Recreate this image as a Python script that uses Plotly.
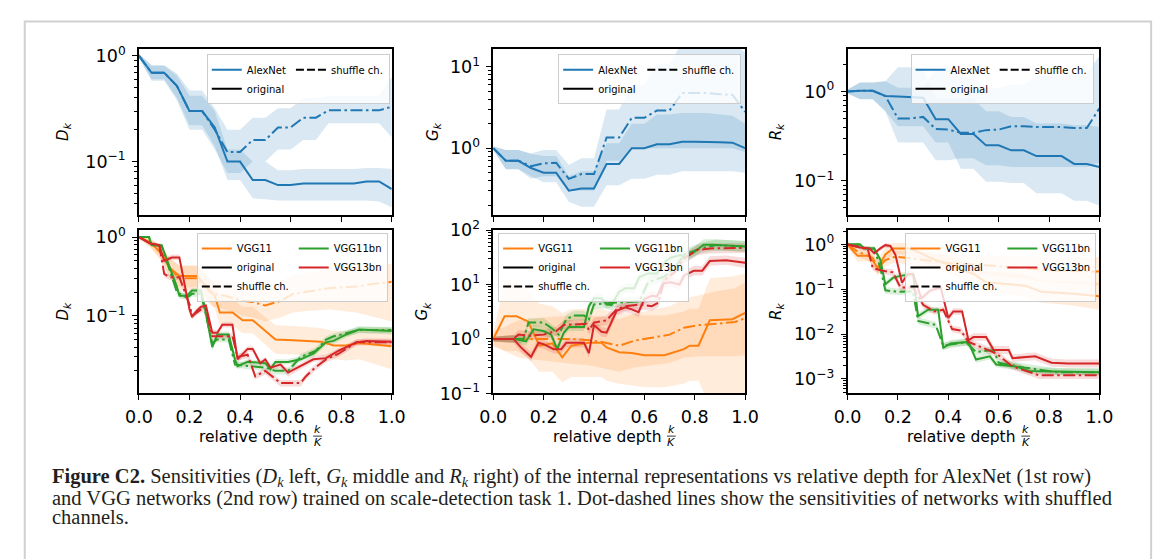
import math
import plotly.graph_objects as go

# ---------------------------------------------------------------- data
# AlexNet: relative depth k/K (K = 20)
ALEX_X = [0.0, 0.05, 0.10, 0.15, 0.20, 0.25, 0.30, 0.35, 0.40, 0.45, 0.50,
          0.55, 0.60, 0.65, 0.70, 0.75, 0.80, 0.85, 0.90, 0.95, 1.0]

D_ALEX_ORIG = [1.0, 0.69, 0.69, 0.52, 0.30, 0.30, 0.21, 0.10, 0.10, 0.067, 0.067,
               0.060, 0.060, 0.062, 0.062, 0.062, 0.062, 0.062, 0.065, 0.065, 0.055]
D_ALEX_ORIG_LO = [0.96, 0.60, 0.60, 0.40, 0.22, 0.22, 0.14, 0.067, 0.067, 0.045, 0.044,
                  0.043, 0.043, 0.043, 0.043, 0.043, 0.043, 0.043, 0.043, 0.042, 0.037]
D_ALEX_ORIG_HI = [1.04, 0.80, 0.80, 0.65, 0.42, 0.42, 0.30, 0.13, 0.13, 0.10, 0.10,
                  0.083, 0.083, 0.085, 0.085, 0.085, 0.085, 0.085, 0.087, 0.087, 0.085]
D_ALEX_SHUF = [1.0, 0.69, 0.69, 0.52, 0.30, 0.30, 0.20, 0.123, 0.123, 0.16, 0.16,
               0.21, 0.21, 0.26, 0.26, 0.305, 0.305, 0.305, 0.305, 0.305, 0.33]
D_ALEX_SHUF_LO = [0.95, 0.58, 0.58, 0.38, 0.20, 0.20, 0.13, 0.078, 0.078, 0.10, 0.10,
                  0.13, 0.13, 0.16, 0.16, 0.23, 0.23, 0.23, 0.23, 0.23, 0.17]
D_ALEX_SHUF_HI = [1.05, 0.82, 0.82, 0.68, 0.47, 0.47, 0.32, 0.20, 0.20, 0.26, 0.26,
                  0.32, 0.32, 0.40, 0.40, 0.42, 0.42, 0.42, 0.42, 0.42, 0.63]

G_ALEX_ORIG = [1.0, 0.70, 0.70, 0.57, 0.50, 0.50, 0.30, 0.32, 0.32, 0.64, 0.64,
               1.0, 1.0, 1.12, 1.12, 1.2, 1.2, 1.2, 1.18, 1.17, 1.0]
G_ALEX_ORIG_LO = [0.95, 0.55, 0.55, 0.45, 0.38, 0.38, 0.22, 0.19, 0.19, 0.35, 0.35,
                  0.42, 0.42, 0.47, 0.47, 0.52, 0.52, 0.52, 0.52, 0.52, 0.50]
G_ALEX_ORIG_HI = [1.05, 0.95, 0.95, 0.85, 0.80, 0.80, 0.45, 0.52, 0.52, 1.15, 1.15,
                  2.0, 2.0, 2.6, 2.6, 2.7, 2.7, 2.7, 2.6, 2.5, 2.0]
G_ALEX_SHUF = [1.0, 0.70, 0.70, 0.60, 0.65, 0.66, 0.42, 0.48, 0.48, 1.35, 1.35,
               2.36, 2.36, 2.9, 2.9, 4.76, 4.76, 4.76, 4.6, 4.55, 2.8]
G_ALEX_SHUF_LO = [0.95, 0.55, 0.55, 0.42, 0.45, 0.45, 0.30, 0.30, 0.30, 0.70, 0.70,
                  1.0, 1.0, 1.0, 1.0, 1.0, 1.0, 1.0, 1.0, 1.0, 0.9]
G_ALEX_SHUF_HI = [1.05, 0.95, 0.95, 0.86, 0.95, 0.95, 0.62, 0.75, 0.75, 3.0, 3.0,
                  6.0, 6.0, 11.0, 11.0, 20.0, 20.0, 20.0, 20.0, 20.0, 15.0]

R_ALEX_ORIG = [1.0, 1.02, 1.02, 0.89, 0.88, 0.87, 0.85, 0.49, 0.49, 0.335, 0.335,
               0.25, 0.25, 0.22, 0.22, 0.19, 0.19, 0.19, 0.155, 0.155, 0.143]
R_ALEX_ORIG_LO = [0.95, 0.82, 0.82, 0.60, 0.41, 0.41, 0.41, 0.27, 0.27, 0.137, 0.137,
                  0.098, 0.098, 0.095, 0.095, 0.073, 0.073, 0.073, 0.060, 0.060, 0.053]
R_ALEX_ORIG_HI = [1.05, 1.26, 1.26, 1.30, 1.87, 1.87, 1.80, 0.83, 0.83, 0.83, 0.83,
                  0.60, 0.60, 0.52, 0.52, 0.44, 0.44, 0.44, 0.42, 0.42, 0.40]
R_ALEX_SHUF = [1.0, 1.02, 1.02, 0.89, 0.50, 0.50, 0.52, 0.38, 0.375, 0.345, 0.345,
               0.37, 0.375, 0.41, 0.41, 0.40, 0.40, 0.40, 0.39, 0.39, 0.65]
R_ALEX_SHUF_LO = [0.95, 0.82, 0.82, 0.60, 0.27, 0.27, 0.27, 0.17, 0.17, 0.18, 0.18,
                  0.15, 0.15, 0.143, 0.143, 0.143, 0.143, 0.143, 0.143, 0.143, 0.16]
R_ALEX_SHUF_HI = [1.05, 1.26, 1.26, 1.30, 1.10, 1.10, 1.10, 1.77, 1.77, 1.43, 1.43,
                  1.10, 1.10, 1.20, 1.20, 1.50, 1.50, 1.50, 1.60, 1.60, 2.50]

# VGG networks: rows are (relative depth, value, band low, band high)
D_VGG11_ORIG = [
    (0.00, 1.00, 0.95, 1.05), (0.045, 0.85, 0.74, 0.96), (0.09, 0.62, 0.50, 0.76),
    (0.12, 0.41, 0.31, 0.55), (0.16, 0.32, 0.23, 0.44), (0.23, 0.32, 0.23, 0.44),
    (0.30, 0.18, 0.125, 0.26), (0.32, 0.11, 0.075, 0.165), (0.37, 0.11, 0.075, 0.165),
    (0.41, 0.088, 0.06, 0.13), (0.45, 0.088, 0.06, 0.13), (0.50, 0.064, 0.043, 0.097),
    (0.54, 0.050, 0.033, 0.076), (0.61, 0.049, 0.032, 0.074), (0.72, 0.047, 0.031, 0.070),
    (0.77, 0.042, 0.028, 0.064), (0.82, 0.042, 0.027, 0.064), (0.87, 0.045, 0.028, 0.068),
    (1.00, 0.041, 0.021, 0.070)]
D_VGG11_SHUF = [
    (0.00, 1.00, 0.95, 1.05), (0.045, 0.85, 0.74, 0.96), (0.09, 0.62, 0.50, 0.76),
    (0.12, 0.41, 0.31, 0.55), (0.16, 0.30, 0.21, 0.43), (0.23, 0.30, 0.21, 0.43),
    (0.29, 0.19, 0.13, 0.28), (0.34, 0.18, 0.12, 0.27), (0.41, 0.155, 0.10, 0.25),
    (0.45, 0.15, 0.095, 0.24), (0.50, 0.135, 0.085, 0.23), (0.56, 0.155, 0.095, 0.27),
    (0.61, 0.19, 0.11, 0.33), (0.66, 0.20, 0.115, 0.35), (0.755, 0.225, 0.12, 0.39),
    (0.86, 0.235, 0.11, 0.41), (0.91, 0.25, 0.10, 0.43), (1.00, 0.27, 0.085, 0.46)]
D_VGG11BN_ORIG = [
    (0.00, 1.00, 0.97, 1.03), (0.04, 1.00, 0.97, 1.03), (0.05, 0.79, 0.75, 0.83),
    (0.09, 0.78, 0.74, 0.82), (0.15, 0.235, 0.215, 0.255), (0.16, 0.18, 0.165, 0.195),
    (0.19, 0.18, 0.165, 0.195), (0.21, 0.21, 0.195, 0.225), (0.245, 0.21, 0.195, 0.225),
    (0.26, 0.13, 0.12, 0.14), (0.29, 0.040, 0.036, 0.044), (0.31, 0.058, 0.053, 0.063),
    (0.355, 0.058, 0.053, 0.063), (0.38, 0.028, 0.025, 0.031), (0.39, 0.023, 0.021, 0.025),
    (0.43, 0.026, 0.024, 0.028), (0.50, 0.025, 0.023, 0.027), (0.52, 0.021, 0.019, 0.023),
    (0.54, 0.026, 0.024, 0.028), (0.59, 0.026, 0.024, 0.028), (0.64, 0.028, 0.026, 0.031),
    (0.69, 0.033, 0.030, 0.036), (0.74, 0.046, 0.042, 0.050), (0.77, 0.048, 0.044, 0.053),
    (0.82, 0.058, 0.053, 0.064), (0.87, 0.067, 0.061, 0.074), (1.00, 0.064, 0.058, 0.071)]
D_VGG11BN_SHUF = [
    (0.00, 1.00, 0.97, 1.03), (0.04, 1.00, 0.97, 1.03), (0.05, 0.79, 0.75, 0.83),
    (0.09, 0.78, 0.74, 0.82), (0.15, 0.20, 0.185, 0.22), (0.19, 0.17, 0.155, 0.185),
    (0.21, 0.19, 0.175, 0.205), (0.245, 0.19, 0.175, 0.205), (0.26, 0.12, 0.11, 0.13),
    (0.29, 0.045, 0.041, 0.049), (0.31, 0.050, 0.046, 0.055), (0.355, 0.050, 0.046, 0.055),
    (0.38, 0.024, 0.022, 0.027), (0.43, 0.023, 0.021, 0.025), (0.50, 0.022, 0.020, 0.024),
    (0.54, 0.020, 0.018, 0.022), (0.59, 0.020, 0.018, 0.022), (0.64, 0.030, 0.027, 0.033),
    (0.70, 0.036, 0.033, 0.040), (0.74, 0.050, 0.046, 0.055), (0.77, 0.055, 0.050, 0.060),
    (0.82, 0.060, 0.055, 0.066), (0.87, 0.066, 0.060, 0.072), (1.00, 0.066, 0.060, 0.072)]
D_VGG13BN_ORIG = [
    (0.00, 1.00, 0.97, 1.03), (0.045, 0.83, 0.79, 0.87), (0.08, 0.79, 0.75, 0.83),
    (0.10, 0.50, 0.46, 0.54), (0.13, 0.55, 0.51, 0.60), (0.16, 0.55, 0.51, 0.60),
    (0.20, 0.12, 0.11, 0.13), (0.21, 0.097, 0.089, 0.105), (0.23, 0.117, 0.107, 0.127),
    (0.245, 0.13, 0.12, 0.14), (0.265, 0.135, 0.125, 0.145), (0.29, 0.061, 0.056, 0.066),
    (0.31, 0.061, 0.056, 0.066), (0.33, 0.077, 0.071, 0.083), (0.37, 0.077, 0.071, 0.083),
    (0.39, 0.028, 0.025, 0.031), (0.43, 0.038, 0.035, 0.041), (0.45, 0.038, 0.035, 0.041),
    (0.48, 0.025, 0.023, 0.027), (0.50, 0.028, 0.026, 0.030), (0.52, 0.022, 0.020, 0.024),
    (0.56, 0.024, 0.022, 0.026), (0.59, 0.019, 0.017, 0.021), (0.64, 0.023, 0.021, 0.025),
    (0.69, 0.028, 0.026, 0.031), (0.74, 0.029, 0.027, 0.032), (0.79, 0.036, 0.033, 0.039),
    (0.86, 0.046, 0.042, 0.050), (0.90, 0.048, 0.044, 0.052), (1.00, 0.047, 0.043, 0.051)]
D_VGG13BN_SHUF = [
    (0.00, 1.00, 0.97, 1.03), (0.045, 0.83, 0.79, 0.87), (0.08, 0.79, 0.75, 0.83),
    (0.10, 0.34, 0.31, 0.37), (0.12, 0.31, 0.285, 0.335), (0.16, 0.31, 0.285, 0.335),
    (0.20, 0.14, 0.13, 0.15), (0.21, 0.10, 0.092, 0.108), (0.245, 0.12, 0.11, 0.13),
    (0.265, 0.12, 0.11, 0.13), (0.29, 0.055, 0.050, 0.060), (0.37, 0.055, 0.050, 0.060),
    (0.39, 0.030, 0.027, 0.033), (0.43, 0.032, 0.029, 0.035), (0.46, 0.017, 0.0155, 0.0185),
    (0.50, 0.020, 0.018, 0.022), (0.56, 0.014, 0.0127, 0.0153), (0.64, 0.014, 0.0127, 0.0153),
    (0.66, 0.017, 0.0155, 0.0185), (0.69, 0.021, 0.019, 0.023), (0.74, 0.028, 0.0255, 0.0305),
    (0.79, 0.033, 0.030, 0.036), (0.86, 0.046, 0.042, 0.050), (1.00, 0.046, 0.042, 0.050)]

G_VGG11_ORIG = [
    (0.00, 1.00, 0.75, 1.35), (0.045, 2.6, 0.6, 11), (0.093, 2.6, 0.6, 11),
    (0.138, 2.1, 0.45, 8), (0.183, 0.75, 0.25, 4.5), (0.235, 0.83, 0.25, 4.0),
    (0.274, 0.46, 0.16, 3.0), (0.31, 0.75, 0.2, 3.5), (0.38, 0.85, 0.2, 3.6),
    (0.43, 0.85, 0.2, 3.6), (0.45, 0.70, 0.17, 3.3), (0.50, 0.57, 0.15, 3.0),
    (0.55, 0.55, 0.14, 2.9), (0.60, 0.50, 0.13, 2.7), (0.68, 0.50, 0.13, 2.7),
    (0.757, 0.65, 0.15, 3.2), (0.78, 0.75, 0.17, 3.6), (0.815, 0.75, 0.17, 3.6),
    (0.86, 2.2, 0.06, 13), (0.95, 2.3, 0.055, 14), (1.00, 3.0, 0.05, 16)]
G_VGG11_SHUF = [
    (0.00, 1.00, 0.75, 1.35), (0.10, 1.00, 0.45, 2.2), (0.20, 1.00, 0.4, 2.5),
    (0.31, 1.00, 0.35, 2.7), (0.38, 0.95, 0.33, 2.7), (0.42, 0.90, 0.3, 2.6),
    (0.50, 0.75, 0.25, 2.3), (0.56, 0.93, 0.3, 2.9), (0.63, 1.05, 0.33, 3.4),
    (0.70, 1.20, 0.36, 4.0), (0.757, 1.6, 0.45, 5.5), (0.82, 1.8, 0.48, 6.5),
    (0.886, 1.9, 0.48, 7.5), (0.96, 2.05, 0.48, 8.5), (1.00, 2.4, 0.5, 11)]
G_VGG11BN_ORIG = [
    (0.00, 1.00, 0.9, 1.1), (0.086, 1.00, 0.85, 1.18), (0.11, 0.95, 0.8, 1.12),
    (0.13, 0.90, 0.75, 1.08), (0.16, 1.5, 1.25, 1.8), (0.20, 1.4, 1.15, 1.7),
    (0.23, 1.2, 1.0, 1.45), (0.254, 0.65, 0.54, 0.78), (0.28, 1.3, 1.1, 1.55),
    (0.30, 1.65, 1.4, 1.95), (0.36, 1.65, 1.4, 1.95), (0.38, 4.0, 3.3, 4.8),
    (0.40, 5.6, 4.6, 6.8), (0.43, 5.6, 4.6, 6.8), (0.45, 4.3, 3.5, 5.2),
    (0.47, 4.2, 3.4, 5.1), (0.50, 7.4, 6.0, 9.0), (0.525, 8.5, 6.9, 10.4),
    (0.56, 8.5, 6.9, 10.4), (0.58, 13.7, 11, 17), (0.615, 16, 13, 20),
    (0.65, 16, 13, 20), (0.686, 27, 22, 33), (0.705, 31, 25, 38),
    (0.745, 35, 28, 43), (0.76, 31, 25, 38), (0.80, 40, 32, 50),
    (0.835, 54, 43, 68), (0.87, 54, 43, 68), (1.00, 50, 40, 63)]
G_VGG11BN_SHUF = [
    (0.00, 1.00, 0.9, 1.1), (0.086, 1.00, 0.85, 1.18), (0.12, 1.0, 0.85, 1.18),
    (0.14, 2.0, 1.7, 2.4), (0.20, 2.0, 1.7, 2.4), (0.23, 1.6, 1.35, 1.9),
    (0.26, 1.2, 1.0, 1.45), (0.29, 2.3, 1.9, 2.8), (0.32, 2.7, 2.2, 3.3),
    (0.36, 2.7, 2.2, 3.3), (0.38, 2.3, 1.9, 2.8), (0.40, 4.3, 3.5, 5.2),
    (0.47, 4.6, 3.8, 5.6), (0.58, 4.9, 4.0, 6.0), (0.615, 11, 9, 13.5),
    (0.68, 14, 11.5, 17), (0.72, 20, 16, 25), (0.757, 35, 28, 44),
    (0.82, 46, 37, 58), (0.886, 53, 42, 67), (1.00, 50, 40, 63)]
G_VGG13BN_ORIG = [
    (0.00, 1.00, 0.9, 1.1), (0.08, 1.00, 0.85, 1.18), (0.11, 0.70, 0.58, 0.84),
    (0.15, 0.47, 0.39, 0.57), (0.18, 0.85, 0.7, 1.03), (0.20, 0.80, 0.66, 0.97),
    (0.24, 0.65, 0.54, 0.78), (0.27, 0.65, 0.54, 0.78), (0.29, 0.85, 0.7, 1.03),
    (0.36, 0.85, 0.7, 1.03), (0.38, 0.55, 0.45, 0.66), (0.40, 1.8, 1.5, 2.2),
    (0.43, 1.35, 1.1, 1.65), (0.45, 1.3, 1.07, 1.58), (0.49, 3.3, 2.7, 4.0),
    (0.525, 3.8, 3.1, 4.6), (0.55, 3.5, 2.9, 4.3), (0.577, 3.1, 2.5, 3.8),
    (0.60, 5.4, 4.4, 6.6), (0.63, 6.2, 5.1, 7.6), (0.65, 6.0, 4.9, 7.3),
    (0.673, 10.4, 8.5, 12.7), (0.706, 11, 9, 13.4), (0.74, 10, 8.2, 12.2),
    (0.757, 14.5, 11.9, 17.7), (0.796, 17.9, 14.7, 21.8), (0.83, 17.9, 14.7, 21.8),
    (0.86, 27, 22, 33), (0.925, 28, 23, 34), (1.00, 25, 20, 31)]
G_VGG13BN_SHUF = [
    (0.00, 1.00, 0.9, 1.1), (0.08, 1.00, 0.85, 1.18), (0.10, 1.2, 1.0, 1.45),
    (0.15, 1.15, 0.95, 1.4), (0.20, 1.2, 1.0, 1.45), (0.25, 1.4, 1.15, 1.7),
    (0.28, 1.8, 1.5, 2.2), (0.37, 1.9, 1.55, 2.3), (0.38, 1.45, 1.2, 1.75),
    (0.40, 2.0, 1.65, 2.45), (0.45, 2.2, 1.8, 2.7), (0.49, 3.5, 2.9, 4.3),
    (0.525, 4.0, 3.3, 4.9), (0.58, 4.3, 3.5, 5.2), (0.63, 4.0, 3.3, 4.9),
    (0.655, 4.6, 3.8, 5.6), (0.68, 12, 9.8, 14.6), (0.72, 17, 14, 21),
    (0.757, 30, 24, 37), (0.81, 43, 35, 53), (0.86, 46, 37, 57), (1.00, 47, 38, 58)]

R_VGG11_ORIG = [
    (0.00, 1.00, 0.85, 1.15), (0.04, 0.56, 0.42, 0.75), (0.087, 0.56, 0.42, 0.75),
    (0.12, 0.30, 0.2, 0.45), (0.15, 0.60, 0.42, 0.85), (0.18, 0.82, 0.6, 1.1),
    (0.24, 0.82, 0.6, 1.1), (0.28, 0.69, 0.48, 0.98), (0.33, 0.50, 0.33, 0.75),
    (0.40, 0.36, 0.23, 0.56), (0.50, 0.22, 0.13, 0.37), (0.55, 0.144, 0.085, 0.25),
    (0.655, 0.13, 0.075, 0.23), (0.707, 0.12, 0.068, 0.21), (0.77, 0.088, 0.05, 0.16),
    (0.836, 0.085, 0.047, 0.155), (0.90, 0.080, 0.043, 0.15), (1.00, 0.070, 0.035, 0.14)]
R_VGG11_SHUF = [
    (0.00, 1.00, 0.85, 1.15), (0.04, 0.70, 0.55, 0.9), (0.10, 0.50, 0.38, 0.66),
    (0.12, 0.30, 0.22, 0.42), (0.15, 0.45, 0.33, 0.62), (0.19, 0.54, 0.4, 0.75),
    (0.24, 0.50, 0.36, 0.7), (0.29, 0.46, 0.32, 0.66), (0.345, 0.42, 0.28, 0.62),
    (0.40, 0.39, 0.26, 0.6), (0.50, 0.36, 0.22, 0.58), (0.60, 0.33, 0.19, 0.56),
    (0.707, 0.30, 0.17, 0.54), (0.77, 0.28, 0.15, 0.53), (0.836, 0.26, 0.14, 0.52),
    (1.00, 0.25, 0.12, 0.52)]
R_VGG11BN_ORIG = [
    (0.00, 1.00, 0.95, 1.05), (0.05, 1.00, 0.93, 1.08), (0.065, 0.82, 0.75, 0.9),
    (0.106, 0.82, 0.75, 0.9), (0.13, 0.46, 0.4, 0.53), (0.15, 0.13, 0.11, 0.155),
    (0.18, 0.18, 0.155, 0.21), (0.21, 0.20, 0.17, 0.235), (0.26, 0.22, 0.19, 0.26),
    (0.28, 0.025, 0.021, 0.03), (0.32, 0.035, 0.03, 0.041), (0.36, 0.035, 0.03, 0.041),
    (0.38, 0.0050, 0.0042, 0.006), (0.41, 0.0062, 0.0052, 0.0074), (0.48, 0.0067, 0.0056, 0.008),
    (0.51, 0.0027, 0.0023, 0.0032), (0.565, 0.0032, 0.0027, 0.0038), (0.59, 0.0021, 0.0018, 0.0025),
    (0.668, 0.0019, 0.0016, 0.0023), (0.72, 0.0015, 0.00127, 0.0018), (1.00, 0.0014, 0.0012, 0.0017)]
R_VGG11BN_SHUF = [
    (0.00, 1.00, 0.95, 1.05), (0.05, 1.00, 0.93, 1.08), (0.065, 0.82, 0.75, 0.9),
    (0.106, 0.82, 0.75, 0.9), (0.13, 0.30, 0.26, 0.35), (0.15, 0.095, 0.08, 0.113),
    (0.20, 0.088, 0.075, 0.104), (0.26, 0.090, 0.076, 0.107), (0.28, 0.0197, 0.0166, 0.0235),
    (0.33, 0.0166, 0.014, 0.0198), (0.35, 0.016, 0.0135, 0.019), (0.38, 0.0055, 0.0046, 0.0066),
    (0.47, 0.0066, 0.0055, 0.0079), (0.51, 0.0040, 0.0034, 0.0048), (0.58, 0.0044, 0.0037, 0.0053),
    (0.60, 0.0023, 0.0019, 0.0028), (0.70, 0.0018, 0.0015, 0.0022), (0.836, 0.0014, 0.0012, 0.0017),
    (1.00, 0.0014, 0.0012, 0.0017)]
R_VGG13BN_ORIG = [
    (0.00, 1.00, 0.95, 1.05), (0.05, 0.86, 0.78, 0.95), (0.087, 0.82, 0.74, 0.91),
    (0.106, 0.64, 0.57, 0.72), (0.13, 0.82, 0.73, 0.92), (0.15, 0.97, 0.86, 1.09),
    (0.17, 0.93, 0.83, 1.05), (0.19, 0.59, 0.52, 0.67), (0.216, 0.14, 0.12, 0.165),
    (0.24, 0.22, 0.19, 0.255), (0.26, 0.22, 0.19, 0.255), (0.293, 0.063, 0.054, 0.074),
    (0.33, 0.095, 0.081, 0.111), (0.37, 0.11, 0.094, 0.129), (0.40, 0.023, 0.019, 0.028),
    (0.42, 0.032, 0.027, 0.038), (0.455, 0.032, 0.027, 0.038), (0.48, 0.0073, 0.006, 0.0089),
    (0.50, 0.0086, 0.0071, 0.0104), (0.55, 0.0086, 0.0071, 0.0104), (0.58, 0.0044, 0.0036, 0.0054),
    (0.64, 0.0044, 0.0036, 0.0054), (0.655, 0.0029, 0.0024, 0.0035), (0.745, 0.0032, 0.0026, 0.0039),
    (0.81, 0.0023, 0.0019, 0.0028), (0.875, 0.0022, 0.0018, 0.0027), (1.00, 0.0022, 0.0018, 0.0027)]
R_VGG13BN_SHUF = [
    (0.00, 1.00, 0.95, 1.05), (0.05, 0.86, 0.78, 0.95), (0.08, 0.80, 0.72, 0.89),
    (0.10, 0.30, 0.26, 0.35), (0.14, 0.26, 0.22, 0.3), (0.18, 0.24, 0.2, 0.28),
    (0.21, 0.11, 0.093, 0.13), (0.26, 0.11, 0.093, 0.13), (0.30, 0.045, 0.038, 0.053),
    (0.345, 0.032, 0.027, 0.038), (0.38, 0.035, 0.03, 0.041), (0.415, 0.013, 0.011, 0.0155),
    (0.45, 0.012, 0.010, 0.0143), (0.48, 0.0067, 0.0056, 0.008), (0.53, 0.0052, 0.0043, 0.0062),
    (0.59, 0.0037, 0.0031, 0.0044), (0.655, 0.0019, 0.0016, 0.0023), (0.76, 0.0012, 0.001, 0.00145),
    (1.00, 0.0012, 0.001, 0.00145)]

X_TICKS = [0.0, 0.2, 0.4, 0.6, 0.8, 1.0]
X_TICK_TEXT = ["0.0", "0.2", "0.4", "0.6", "0.8", "1.0"]

CAPTION = [
    "<b>Figure C2.</b> Sensitivities (<i>D</i><sub><i>k</i></sub> left, <i>G</i><sub><i>k</i></sub> middle and "
    "<i>R</i><sub><i>k</i></sub> right) of the internal representations vs relative depth for AlexNet (1st row)",
    "and VGG networks (2nd row) trained on scale-detection task 1. Dot-dashed lines show the sensitivities of "
    "networks with shuffled",
    "channels.",
]

# ---------------------------------------------------------------- layout helpers
W, H = 1170, 559


def fx(p):
    return p / W


def fy(p):
    return 1 - p / H


COLS = [(128, 387), (491, 749), (854, 1112)]
ROWS = [(38.5, 211.5), (227, 397)]

BLUE, ORANGE, GREEN, RED = "#1f77b4", "#ff7f0e", "#2ca02c", "#d62728"
DASHDOT = "12px,3.5px,2.5px,3.5px"
FONT = "DejaVu Sans"
TICK_SIZE = 17.5


def rgba(h, a):
    h = h.lstrip("#")
    return "rgba(%d,%d,%d,%.3f)" % (int(h[0:2], 16), int(h[2:4], 16), int(h[4:6], 16), a)


def unpack(rows):
    return ([r[0] for r in rows], [r[1] for r in rows], [r[2] for r in rows], [r[3] for r in rows])


def log_ticktext(vals):
    out = []
    for v in vals:
        e = int(round(math.log10(v)))
        out.append("10<sup>%s</sup>" % (str(e).replace("-", "\u2212")))
    return out


top_series = {
    "D": [(ALEX_X, D_ALEX_ORIG, D_ALEX_ORIG_LO, D_ALEX_ORIG_HI),
          (ALEX_X, D_ALEX_SHUF, D_ALEX_SHUF_LO, D_ALEX_SHUF_HI)],
    "G": [(ALEX_X, G_ALEX_ORIG, G_ALEX_ORIG_LO, G_ALEX_ORIG_HI),
          (ALEX_X, G_ALEX_SHUF, G_ALEX_SHUF_LO, G_ALEX_SHUF_HI)],
    "R": [(ALEX_X, R_ALEX_ORIG, R_ALEX_ORIG_LO, R_ALEX_ORIG_HI),
          (ALEX_X, R_ALEX_SHUF, R_ALEX_SHUF_LO, R_ALEX_SHUF_HI)],
}
bottom_series = {
    "D": [D_VGG11_ORIG, D_VGG11_SHUF, D_VGG11BN_ORIG, D_VGG11BN_SHUF, D_VGG13BN_ORIG, D_VGG13BN_SHUF],
    "G": [G_VGG11_ORIG, G_VGG11_SHUF, G_VGG11BN_ORIG, G_VGG11BN_SHUF, G_VGG13BN_ORIG, G_VGG13BN_SHUF],
    "R": [R_VGG11_ORIG, R_VGG11_SHUF, R_VGG11BN_ORIG, R_VGG11BN_SHUF, R_VGG13BN_ORIG, R_VGG13BN_SHUF],
}
YRANGES = {1: [-1.506, 0.064], 2: [-0.824, 1.22], 3: [-1.382, 0.475],
           4: [-1.985, 0.089], 5: [-1.0, 2.0], 6: [-3.324, 0.324]}
YTICKS = {1: [0.1, 1], 2: [1, 10], 3: [0.1, 1],
          4: [0.1, 1], 5: [0.1, 1, 10, 100], 6: [0.001, 0.01, 0.1, 1]}
YLABEL = {"D": "<i>D</i><sub><i>k</i></sub>", "G": "<i>G</i><sub><i>k</i></sub>",
          "R": "<i>R</i><sub><i>k</i></sub>"}
YSTANDOFF = {1: 13, 2: 8, 3: 9, 4: 13, 5: 8, 6: 9}
LEGEND_POS = {1: (385, 44, "right"), 2: (745, 44, "right"), 3: (1106, 44, "right"),
              4: (383, 230, "right"), 5: (496, 230, "left"), 6: (1109, 230, "right")}

fig = go.Figure()


def axes_ids(i):
    return ("x" if i == 1 else "x%d" % i), ("y" if i == 1 else "y%d" % i)


def legend_id(i):
    return "legend" if i == 1 else "legend%d" % i


for c, key in enumerate(["D", "G", "R"]):
    # ---------- top row (AlexNet)
    i = c + 1
    xa, ya = axes_ids(i)
    lg = legend_id(i)
    for (x, y, lo, hi) in top_series[key]:
        fig.add_trace(go.Scatter(x=list(x) + list(x)[::-1], y=list(hi) + list(lo)[::-1],
                                 fill="toself", fillcolor=rgba(BLUE, 0.17), line=dict(width=0),
                                 mode="lines", hoverinfo="skip", showlegend=False, xaxis=xa, yaxis=ya))
    for k, (x, y, lo, hi) in enumerate(top_series[key]):
        shuffled = k == 1
        fig.add_trace(go.Scatter(x=x, y=y, mode="lines", xaxis=xa, yaxis=ya,
                                 line=dict(color=BLUE, width=2, dash=DASHDOT if shuffled else "solid"),
                                 name="AlexNet", showlegend=not shuffled, legend=lg, legendgroup="a"))
    fig.add_trace(go.Scatter(x=[None], y=[None], mode="lines", xaxis=xa, yaxis=ya,
                             line=dict(color="black", width=2), name="original",
                             legend=lg, legendgroup="a"))
    fig.add_trace(go.Scatter(x=[None], y=[None], mode="lines", xaxis=xa, yaxis=ya,
                             line=dict(color="black", width=2, dash="8px,3px"), name="shuffle ch.",
                             legend=lg, legendgroup="b"))

    # ---------- bottom row (VGG)
    i = c + 4
    xa, ya = axes_ids(i)
    lg = legend_id(i)
    colors = [ORANGE, ORANGE, GREEN, GREEN, RED, RED]
    names = ["VGG11", None, "VGG11bn", None, "VGG13bn", None]
    groups = ["a", None, "b", None, "b", None]
    alphas = [0.15, 0.15, 0.17, 0.17, 0.17, 0.17]
    for s, col, al in zip(bottom_series[key], colors, alphas):
        x, y, lo, hi = unpack(s)
        fig.add_trace(go.Scatter(x=x + x[::-1], y=hi + lo[::-1], fill="toself",
                                 fillcolor=rgba(col, al), line=dict(width=0), mode="lines",
                                 hoverinfo="skip", showlegend=False, xaxis=xa, yaxis=ya))
    for k, (s, col, nm, gp) in enumerate(zip(bottom_series[key], colors, names, groups)):
        x, y, lo, hi = unpack(s)
        shuffled = k % 2 == 1
        fig.add_trace(go.Scatter(x=x, y=y, mode="lines", xaxis=xa, yaxis=ya,
                                 line=dict(color=col, width=2, dash=DASHDOT if shuffled else "solid"),
                                 name=nm if nm else "", showlegend=not shuffled, legend=lg,
                                 legendgroup=gp if gp else "z"))
    fig.add_trace(go.Scatter(x=[None], y=[None], mode="lines", xaxis=xa, yaxis=ya,
                             line=dict(color="black", width=2), name="original",
                             legend=lg, legendgroup="a"))
    fig.add_trace(go.Scatter(x=[None], y=[None], mode="lines", xaxis=xa, yaxis=ya,
                             line=dict(color="black", width=2, dash="8px,3px"), name="shuffle ch.",
                             legend=lg, legendgroup="a"))

layout = dict(width=W, height=H, margin=dict(l=0, r=0, t=0, b=0),
              paper_bgcolor="white", plot_bgcolor="white",
              font=dict(family=FONT, size=14, color="black"), showlegend=True)

for i in range(1, 7):
    r, c = divmod(i - 1, 3)
    key = ["D", "G", "R"][c]
    xname = "xaxis" if i == 1 else "xaxis%d" % i
    yname = "yaxis" if i == 1 else "yaxis%d" % i
    xa, ya = axes_ids(i)
    layout[xname] = dict(domain=[fx(COLS[c][0]), fx(COLS[c][1])], range=[0, 1], anchor=ya,
                         tickmode="array", tickvals=X_TICKS, ticktext=X_TICK_TEXT,
                         showticklabels=(r == 1), ticks="outside", ticklen=5, tickwidth=1.3,
                         tickcolor="black", showline=True, mirror=True, linecolor="black",
                         linewidth=1.5, showgrid=False, zeroline=False, ticklabelstandoff=2,
                         tickfont=dict(family=FONT, size=TICK_SIZE, color="black"))
    layout[yname] = dict(domain=[fy(ROWS[r][1]), fy(ROWS[r][0])], type="log", range=YRANGES[i],
                         anchor=xa, tickmode="array", tickvals=YTICKS[i],
                         ticktext=log_ticktext(YTICKS[i]), ticks="outside", ticklen=5,
                         tickwidth=1.3, tickcolor="black", showline=True, mirror=True,
                         linecolor="black", linewidth=1.5, showgrid=False, zeroline=False,
                         ticklabelstandoff=3,
                         tickfont=dict(family=FONT, size=TICK_SIZE, color="black"),
                         minor=dict(ticks="outside", ticklen=3, tickwidth=1, tickcolor="black",
                                    dtick="D1", showgrid=False),
                         title=dict(text=YLABEL[key], font=dict(family=FONT, size=15, color="black"),
                                    standoff=YSTANDOFF[i]))
    lx, ly, anc = LEGEND_POS[i]
    layout[legend_id(i)] = dict(x=fx(lx), y=fy(ly), xanchor=anc, yanchor="top", orientation="h",
                                traceorder="grouped", tracegroupgap=0, itemwidth=30,
                                font=dict(family=FONT, size=10, color="black"),
                                bgcolor="rgba(255,255,255,0.8)", bordercolor="#cccccc",
                                borderwidth=1)

annotations = []
shapes = []
for c in range(3):
    cx = (COLS[c][0] + COLS[c][1]) / 2
    annotations.append(dict(text="relative depth", x=fx(cx + 46), y=fy(442), xref="paper",
                            yref="paper", xanchor="right", yanchor="middle", showarrow=False,
                            font=dict(family=FONT, size=15.5, color="black")))
    annotations.append(dict(text="<i>k</i>", x=fx(cx + 53.5), y=fy(435), xref="paper", yref="paper",
                            xanchor="center", yanchor="middle", showarrow=False,
                            font=dict(family=FONT, size=11, color="black")))
    annotations.append(dict(text="<i>K</i>", x=fx(cx + 53.5), y=fy(448.5), xref="paper", yref="paper",
                            xanchor="center", yanchor="middle", showarrow=False,
                            font=dict(family=FONT, size=11, color="black")))
    shapes.append(dict(type="line", xref="paper", yref="paper", x0=fx(cx + 49), x1=fx(cx + 58),
                       y0=fy(441.5), y1=fy(441.5), line=dict(color="black", width=0.8)))

for line, ypx in zip(CAPTION, [485, 506, 526]):
    annotations.append(dict(text=line, x=fx(37), y=fy(ypx), xref="paper", yref="paper",
                            xanchor="left", yanchor="middle", align="left", showarrow=False,
                            font=dict(family="Liberation Serif", size=20.5, color="#231f20")))

shapes.append(dict(type="rect", xref="paper", yref="paper", x0=fx(11), x1=fx(1165),
                   y0=fy(620), y1=fy(10), line=dict(color="#d0d0d0", width=2),
                   fillcolor="rgba(0,0,0,0)", layer="below"))

layout["annotations"] = annotations
layout["shapes"] = shapes
fig.update_layout(**layout)

fig.write_html("out.html")
